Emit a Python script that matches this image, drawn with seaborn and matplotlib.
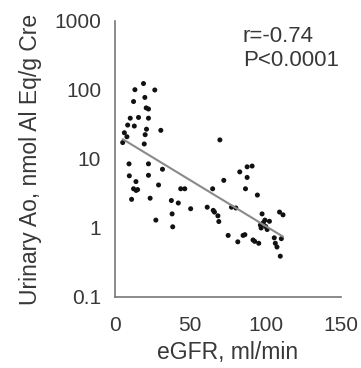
import numpy as np
import pandas as pd
import matplotlib
matplotlib.use("Agg")
import matplotlib.pyplot as plt
import seaborn as sns

# values (eGFR ml/min, urinary Ao nmol Al Eq/g Cre)
egfr = [18.9, 13.2, 26.4, 19.8, 12.3, 20.7, 22.2, 10.1, 15.6, 22.2,
        12.8, 8.4, 20.9, 30.4, 6.2, 7.9, 20.0, 19.4, 5.1, 69.6,
        9.3, 22.2, 31.5, 9.5, 22.2, 28.9, 13.9, 12.3, 14.0, 15.0,
        11.0, 23.3, 27.1, 37.4, 37.9, 38.3, 43.6, 46.3, 42.0, 50.2,
        61.2, 64.8, 65.2, 66.0, 68.3, 68.9, 72.2, 75.1, 77.3, 80.2,
        81.5, 82.8, 85.0, 86.2, 86.6, 87.7, 87.7, 91.0, 91.6, 92.7,
        94.5, 95.4, 96.5, 97.6, 97.0, 98.5, 100.0, 101.0, 99.5, 102.5,
        105.7, 106.4, 107.5, 109.7, 110.4, 109.2, 111.5]
urinary_ao = [124, 101, 100, 78, 68, 55, 53, 39, 40, 39,
              30, 31, 27, 26, 24, 21, 22.5, 16.5, 17.3, 18.9,
              8.5, 8.5, 7.1, 5.7, 5.8, 4.2, 4.7, 3.7, 3.5, 3.6,
              2.6, 2.7, 1.3, 2.5, 1.6, 1.04, 3.7, 3.7, 2.3, 1.9,
              2.0, 3.7, 1.8, 1.7, 1.5, 1.24, 4.9, 0.78, 2.0, 1.95,
              0.63, 6.5, 0.78, 0.8, 3.7, 5.4, 7.7, 7.9, 0.67, 0.64,
              3.0, 0.6, 1.1, 1.6, 1.0, 1.2, 1.05, 0.95, 1.3, 1.25,
              0.72, 0.6, 0.53, 0.39, 0.7, 1.7, 1.55]

df = pd.DataFrame({"eGFR": egfr, "Ao": urinary_ao})

# log-linear fit for the trend line
slope, intercept = np.polyfit(df["eGFR"], np.log10(df["Ao"]), 1)
fit = pd.DataFrame({"eGFR": [df["eGFR"].min(), df["eGFR"].max()]})
fit["Ao"] = 10 ** (intercept + slope * fit["eGFR"])

sns.set_style("white")
plt.rcParams["font.family"] = ["Liberation Sans", "DejaVu Sans"]
text_col = "#383838"

fig = plt.figure(figsize=(3.61, 3.68), dpi=100)
ax = fig.add_axes([0.3186, 0.193, 0.626, 0.75])

sns.scatterplot(data=df, x="eGFR", y="Ao", color="#111111", s=13,
                edgecolor="none", ax=ax)
sns.lineplot(data=fit, x="eGFR", y="Ao", color="#8a8a8a", lw=1.5, ax=ax)

ax.set_yscale("log")
ax.set_xlim(0, 150)
ax.set_ylim(0.1, 1000)
ax.set_xticks([0, 50, 100, 150])
ax.set_yticks([0.1, 1, 10, 100, 1000])
ax.set_yticklabels(["0.1", "1", "10", "100", "1000"])
ax.minorticks_off()
ax.tick_params(direction="in", length=4, width=1, colors="#777777",
               labelcolor=text_col, labelsize=15)
ax.tick_params(axis="y", pad=10)
ax.tick_params(axis="x", pad=14)

for side in ["top", "right"]:
    ax.spines[side].set_visible(False)
for side in ["left", "bottom"]:
    ax.spines[side].set_color("#777777")
    ax.spines[side].set_linewidth(1.2)

ax.set_xlabel("eGFR, ml/min", fontsize=16.5, color=text_col, labelpad=4)
ax.set_ylabel("Urinary Ao, nmol Al Eq/g Cre", fontsize=16.5, color=text_col, labelpad=9)

ax.text(0.566, 0.90, "r=-0.74\nP<0.0001", transform=ax.transAxes,
        fontsize=16, color=text_col, va="center", ha="left", linespacing=1.2)

fig.savefig("out.png", dpi=100)
